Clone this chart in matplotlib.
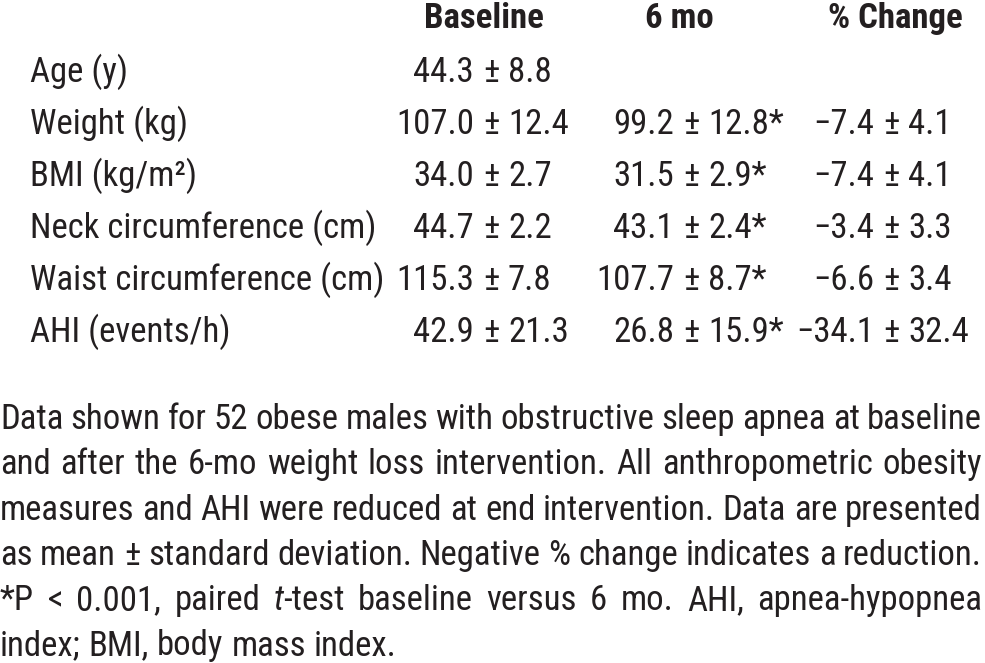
import matplotlib
matplotlib.use("Agg")
import matplotlib.pyplot as plt
from matplotlib import font_manager

# table contents
row_labels = ["Age (y)", "Weight (kg)", "BMI (kg/m²)", "Neck circumference (cm)",
              "Waist circumference (cm)", "AHI (events/h)"]
col_heads = ["Baseline", "6 mo", "% Change"]
baseline_mean = ["44.3", "107.0", "34.0", "44.7", "115.3", "42.9"]
baseline_sd = ["8.8", "12.4", "2.7", "2.2", "7.8", "21.3"]
mo6_mean = [None, "99.2", "31.5", "43.1", "107.7", "26.8"]
mo6_sd = [None, "12.8*", "2.9*", "2.4*", "8.7*", "15.9*"]
pct_mean = [None, "−7.4", "−7.4", "−3.4", "−6.6", "−34.1"]
pct_sd = [None, "4.1", "4.1", "3.3", "3.4", "32.4"]

# footnote as printed, line by line ("_t" marks the italic t)
caption_lines = [
    "Data shown for 52 obese males with obstructive sleep apnea at baseline",
    "and after the 6-mo weight loss intervention. All anthropometric obesity",
    "measures and AHI were reduced at end intervention. Data are presented",
    "as mean ± standard deviation. Negative % change indicates a reduction.",
    "*P < 0.001, paired _t-test baseline versus 6 mo. AHI, apnea-hypopnea",
    "index; BMI, body mass index.",
]

installed = {f.name for f in font_manager.fontManager.ttflist}
fam = ["Liberation Sans Narrow", "Arial Narrow", "Roboto Condensed", "Archivo Narrow",
       "PT Sans Narrow", "Liberation Sans", "DejaVu Sans"]
fam = [f for f in fam if f in installed] or ["DejaVu Sans"]
plt.rcParams["font.family"] = fam

W, H = 985, 663
fig = plt.figure(figsize=(W / 100, H / 100), dpi=100)
fs = 25
ink = "#231f20"


def put(x, y, s, **kw):
    return fig.text(x / W, 1 - y / H, s, fontsize=kw.pop("size", fs),
                    va="baseline", color=ink, **kw)


# header
head_x = [484, 679, 895]
for hx, h in zip(head_x, col_heads):
    put(hx, 28, h, ha="center", weight="bold", size=25)

# body, values lined up on the ± sign
pm_x = [491, 691, 891]
row_y = [81.5, 133.6, 185.7, 237.8, 289.9, 342]
cols = [(baseline_mean, baseline_sd), (mo6_mean, mo6_sd), (pct_mean, pct_sd)]
for i, lab in enumerate(row_labels):
    y = row_y[i]
    put(30, y, lab, ha="left")
    for px, (m, s) in zip(pm_x, cols):
        if m[i] is None:
            continue
        put(px - 17, y, m[i], ha="right")
        put(px, y, "±", ha="center")
        put(px + 17, y, s[i], ha="left")

# justified footnote
fig.canvas.draw()
rend = fig.canvas.get_renderer()
right = 982
cap_y0, cap_dy = 429, 45.3
sp = put(0, 0, "a a")
sp2 = put(0, 0, "aa")
space = sp.get_window_extent(rend).width - sp2.get_window_extent(rend).width
sp.remove()
sp2.remove()
for li, line in enumerate(caption_lines):
    y = cap_y0 + li * cap_dy
    words = line.split(" ")
    arts = []
    for w in words:
        if w.startswith("_t"):
            arts.append([put(0, y, "t", style="italic"), put(0, y, w[2:])])
        else:
            arts.append([put(0, y, w)])
    widths = [[a.get_window_extent(rend).width for a in grp] for grp in arts]
    total = sum(sum(g) for g in widths)
    if li < len(caption_lines) - 1:
        gap = (right - total) / (len(words) - 1)
    else:
        gap = space
    x = 0
    for grp, ws in zip(arts, widths):
        for a, wd in zip(grp, ws):
            a.set_x(x / W)
            x += wd
        x += gap

fig.savefig("out.png", dpi=100, facecolor="white")
